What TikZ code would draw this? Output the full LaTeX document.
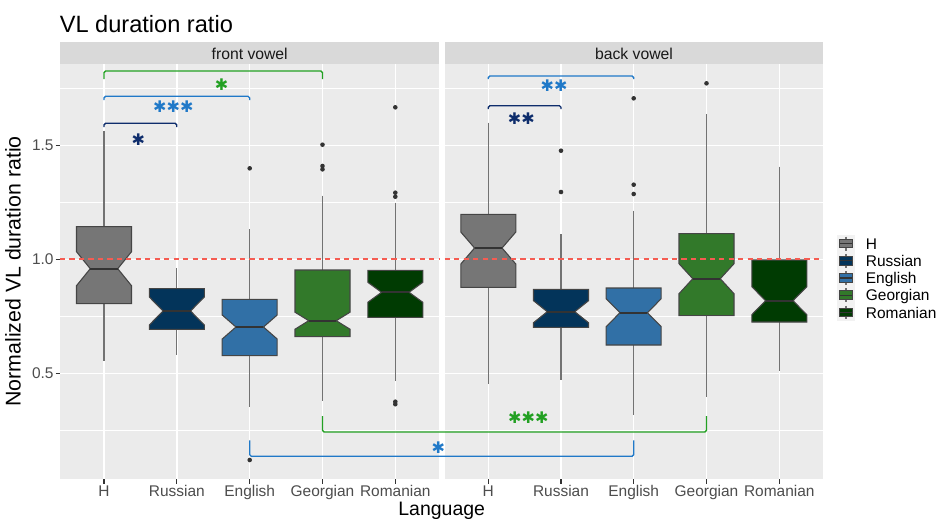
\documentclass[tikz,border=0pt]{standalone}
\usepackage{fontspec}
\setmainfont{Liberation Sans}
\newfontfamily\starfont{DejaVu Sans}
\definecolor{panelbg}{HTML}{EBEBEB}
\definecolor{stripbg}{HTML}{D9D9D9}
\definecolor{cH}{HTML}{767676}
\definecolor{cRu}{HTML}{03345A}
\definecolor{cEn}{HTML}{3170A6}
\definecolor{cGe}{HTML}{32792A}
\definecolor{cRo}{HTML}{003B02}
\definecolor{outl}{HTML}{454545}
\definecolor{whiskc}{HTML}{727272}
\definecolor{medc}{HTML}{333333}
\definecolor{dashred}{RGB}{245,92,82}
\definecolor{sigN}{HTML}{0E2D6C}
\definecolor{sigB}{HTML}{2079C8}
\definecolor{sigG}{HTML}{22A022}
\definecolor{ticklab}{HTML}{4D4D4D}
\definecolor{tickc}{HTML}{333333}
\newcommand{\nbox}[8]{%
  \draw[whisk] (#1,#6) -- (#1,#7);
  \filldraw[boxout, fill=#8] (#1-27.5,#2) -- (#1+27.5,#2) -- (#1+27.5,#4-#5) -- (#1+13.75,#4) -- (#1+27.5,#4+#5) -- (#1+27.5,#3) -- (#1-27.5,#3) -- (#1-27.5,#4+#5) -- (#1-13.75,#4) -- (#1-27.5,#4-#5) -- cycle;
  \draw[medl] (#1-13.75,#4) -- (#1+13.75,#4);}
\newcommand{\outp}[2]{\fill[outc] (#1,#2) circle (2.3);}
\newcommand{\sstar}{✱}
\begin{document}
\begin{tikzpicture}[x=0.75pt,y=-0.75pt,
  whisk/.style={draw=whiskc, line width=0.9pt},
  boxout/.style={draw=outl, line width=0.8pt, line join=miter},
  medl/.style={draw=medc, line width=1.5pt},
  outc/.style={fill=medc},
  majg/.style={draw=white, line width=1.1pt},
  ming/.style={draw=white, line width=0.55pt},
  brk/.style={line width=1pt, rounded corners=1.2},
  reddash/.style={draw=dashred, line width=1.3pt, dash pattern=on 3.9pt off 3.2pt},
  stars/.style={font=\starfont\fontsize{12}{14}\selectfont, anchor=center, inner sep=0pt},
  ticklabel/.style={font=\fontsize{11.6}{13}\selectfont, text=ticklab, inner sep=0pt},
  striptext/.style={font=\fontsize{11.8}{13}\selectfont, text=black!90, inner sep=0pt, anchor=base},
  legtext/.style={font=\fontsize{11.6}{13}\selectfont, inner sep=0pt, anchor=base west},
  tickm/.style={draw=tickc, line width=0.8pt}
]
\useasboundingbox (0,0) rectangle (938,519);
\fill[white] (0,0) rectangle (938,519);
% title
\node[anchor=base west, inner sep=0pt, font=\fontsize{17.7}{20}\selectfont] (title) at (59.5,32.3) {VL duration ratio};
% panels
\foreach \xa/\xb in {60/439.3, 444.7/823.3}{
  \fill[panelbg] (\xa,64) rectangle (\xb,479);
  \fill[stripbg] (\xa,41.7) rectangle (\xb,64);
  \foreach \yy in {88.3,202.3,316.3,430.3}{\draw[ming] (\xa,\yy) -- (\xb,\yy);}
  \foreach \yy in {145.3,259.3,373.3}{\draw[majg] (\xa,\yy) -- (\xb,\yy);}
}
\foreach \xx in {104,176.8,249.7,322.5,395.3, 488.3,561,633.7,706.5,779.3}{
  \draw[majg] (\xx,64) -- (\xx,479);
  \draw[tickm] (\xx,479) -- (\xx,483.5);
}
\node[striptext] (s1) at (249.7,59.8) {front vowel};
\node[striptext] (s2) at (634,59.8) {back vowel};
% y ticks and labels
\foreach \yy/\lab in {145.3/1.5,259.3/1.0,373.3/0.5}{
  \draw[tickm] (55.5,\yy) -- (60,\yy);
  \node[ticklabel, anchor=base east] at (53.8,\yy+5.5) {\lab};
}
% x tick labels
\foreach \xx/\lab in {104/H,176.8/Russian,249.7/English,322.5/Georgian,395.3/Romanian,488.3/H,561/Russian,633.7/English,706.5/Georgian,779.3/Romanian}{
  \node[ticklabel, anchor=base] at (\xx,496) {\lab};
}
% axis titles
\node[anchor=base, inner sep=0pt, font=\fontsize{14.6}{16}\selectfont] (xt) at (441.7,515.5) {Language};
\node[anchor=base, inner sep=0pt, rotate=90, font=\fontsize{16}{18}\selectfont] (yt) at (20.5,271.5) {Normalized VL duration ratio};
% boxes: x, top, bottom, median, notch half, whisker top, whisker bottom, fill
\nbox{104}{226.7}{303.7}{268.7}{17}{130.7}{360.7}{cH}
\nbox{176.8}{288.7}{329.3}{311}{14}{268.3}{355.3}{cRu}
\nbox{249.7}{299.3}{355.7}{327}{12}{229}{407.3}{cEn}
\nbox{322.5}{270}{336.7}{320.7}{8.5}{195.7}{400.7}{cGe}
\nbox{395.3}{270.3}{317.3}{292.3}{10}{202.7}{381}{cRo}
\nbox{488.3}{214.3}{287.3}{248}{16}{122.7}{384}{cH}
\nbox{561}{289.3}{327.3}{311.7}{11}{234.3}{380}{cRu}
\nbox{633.7}{288}{345}{312.7}{14}{210.7}{415}{cEn}
\nbox{706.5}{233.7}{315.7}{278.7}{15}{114}{397.3}{cGe}
\nbox{779.3}{260}{322}{300.7}{14}{166.7}{371}{cRo}
% outliers
\outp{249.7}{168.3}\outp{249.7}{460}
\outp{322.5}{144.7}\outp{322.5}{166}\outp{322.5}{169.3}
\outp{395.3}{107.3}\outp{395.3}{192.7}\outp{395.3}{196.7}\outp{395.3}{401.7}\outp{395.3}{404.2}
\outp{561}{150.7}\outp{561}{192}
\outp{633.7}{98.3}\outp{633.7}{184.7}\outp{633.7}{194}
\outp{706.5}{83.3}
% reference line at ratio 1.0
\draw[reddash] (60,259.3) -- (439.3,259.3);
\draw[reddash] (444.7,259.3) -- (823.3,259.3);
% brackets
\coordinate (LH) at (104,0); \coordinate (LRu) at (176.8,0); \coordinate (LEn) at (249.7,0); \coordinate (LGe) at (322.5,0);
\coordinate (RH) at (488.3,0); \coordinate (RRu) at (561,0); \coordinate (REn) at (633.7,0); \coordinate (RGe) at (706.5,0);
\draw[brk, sigG] (LH |- 0,79) -- (LH |- 0,71) -- (LGe |- 0,71) -- (LGe |- 0,79);
\draw[brk, sigB] (LH |- 0,100) -- (LH |- 0,96.3) -- (LEn |- 0,96.3) -- (LEn |- 0,100);
\draw[brk, sigN] (LH |- 0,127) -- (LH |- 0,123.3) -- (LRu |- 0,123.3) -- (LRu |- 0,127);
\draw[brk, sigB] (RH |- 0,79) -- (RH |- 0,76) -- (REn |- 0,76) -- (REn |- 0,79);
\draw[brk, sigN] (RH |- 0,109) -- (RH |- 0,105.7) -- (RRu |- 0,105.7) -- (RRu |- 0,109);
\draw[brk, sigG] (LGe |- 0,416) -- (LGe |- 0,432) -- (RGe |- 0,432) -- (RGe |- 0,416);
\draw[brk, sigB] (LEn |- 0,440.3) -- (LEn |- 0,456.3) -- (REn |- 0,456.3) -- (REn |- 0,440.3);
% significance stars
\node[stars, text=sigG] (a1) at (221.7,85) {\sstar};
\node[stars, text=sigB] (a2) at (173.3,106.7) {\sstar\sstar\sstar};
\node[stars, text=sigN] (a3) at (138.3,140) {\sstar};
\node[stars, text=sigB] (a4) at (554,86) {\sstar\sstar};
\node[stars, text=sigN] (a5) at (521.3,118.3) {\sstar\sstar};
\node[stars, text=sigG] (a6) at (528.3,417.7) {\sstar\sstar\sstar};
\node[stars, text=sigB] (a7) at (438.3,447.7) {\sstar};
% legend
\foreach \yy/\col/\lab [count=\i] in {243.6/cH/H,260.8/cRu/Russian,278/cEn/English,295.2/cGe/Georgian,312.4/cRo/Romanian}{
  \fill[black!5] (837.4,\yy-8.6) rectangle (854.6,\yy+8.6);
  \draw[whisk] (846,\yy-6.9) -- (846,\yy+6.9);
  \filldraw[boxout, fill=\col] (839.6,\yy-4.3) rectangle (852.4,\yy+4.3);
  \draw[medl, line width=1pt] (839.6,\yy) -- (852.4,\yy);
  \node[legtext] (leg\i) at (865.6,\yy+5.6) {\lab};
}
\end{tikzpicture}
\end{document}
